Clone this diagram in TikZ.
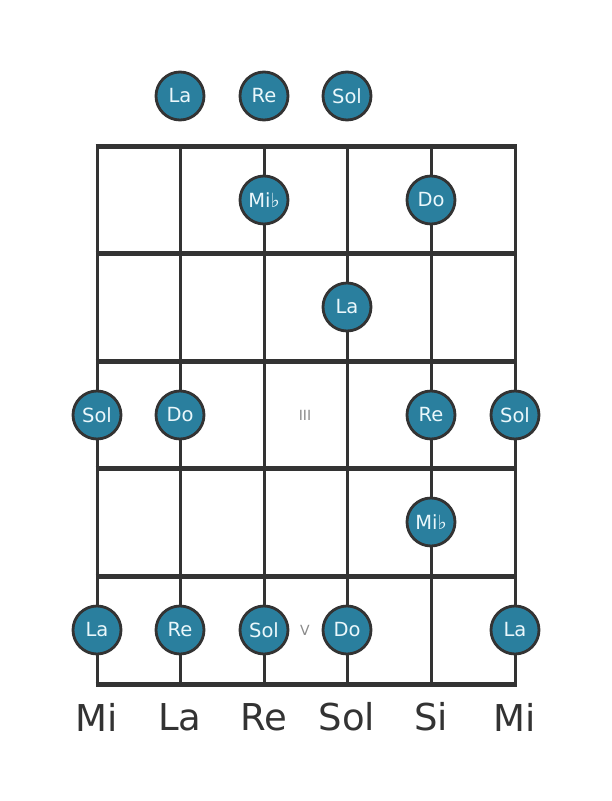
\documentclass[tikz,border=0pt]{standalone}
\usepackage{fontspec}
\setmainfont{DejaVu Sans}
\definecolor{notefill}{HTML}{2A7F9E}
\definecolor{linegray}{HTML}{333333}
\definecolor{notetext}{HTML}{EAF7FB}
\definecolor{markgray}{HTML}{8A8A8A}

\begin{document}
\begin{tikzpicture}[x=1pt, y=-1pt]
        \tikzstyle{note}=[circle,fill=notefill,draw=linegray,line width=2.8pt,minimum size=48pt,inner sep=0pt,text=notetext,font=\fontsize{19.5}{19.5}\selectfont]
        \tikzstyle{fret}=[draw=linegray,line width=5pt]
        \tikzstyle{string}=[draw=linegray,line width=3pt]
        \tikzstyle{marker}=[text=markgray,font=\fontsize{14}{14}\selectfont]
        \tikzstyle{tuning}=[text=linegray,font=\fontsize{37}{37}\selectfont]

        \useasboundingbox (0,0) rectangle (611,801);

        % strings
        \foreach \s/\x in {1/97,2/180,3/264,4/347,5/431,6/515} {
            \coordinate (S\s_top) at (\x,146);
            \coordinate (S\s_bot) at (\x,684);
            \draw[string] (S\s_top) -- (S\s_bot);
        }
        % frets
        \foreach \f/\y in {0/146,1/253.5,2/361,3/468.5,4/576,5/684} {
            \coordinate (F\f_l) at (95.5,\y);
            \coordinate (F\f_r) at (516.5,\y);
            \draw[fret] (F\f_l) -- (F\f_r);
        }

        % fret markers
        \node[marker] (M_3) at (305,415) {III};
        \node[marker] (M_5) at (305,630) {V};

        % open strings
        \node[note] (O_2) at (180,96) {La};
        \node[note] (O_3) at (264,96) {Re};
        \node[note] (O_4) at (347,96) {Sol};

        % fret 1
        \node[note] (N_1_3) at (264,200) {Mi♭};
        \node[note] (N_1_5) at (431,200) {Do};
        % fret 2
        \node[note] (N_2_4) at (347,307) {La};
        % fret 3
        \node[note] (N_3_1) at (97,415)  {Sol};
        \node[note] (N_3_2) at (180,415) {Do};
        \node[note] (N_3_5) at (431,415) {Re};
        \node[note] (N_3_6) at (515,415) {Sol};
        % fret 4
        \node[note] (N_4_5) at (431,522) {Mi♭};
        % fret 5
        \node[note] (N_5_1) at (97,630)  {La};
        \node[note] (N_5_2) at (180,630) {Re};
        \node[note] (N_5_3) at (264,630) {Sol};
        \node[note] (N_5_4) at (347,630) {Do};
        \node[note] (N_5_6) at (515,630) {La};

        % tuning
        \foreach \s/\x/\t in {1/97/Mi,2/180/La,3/264/Re,4/347/Sol,5/431/Si,6/515/Mi}
            \node[tuning] (T_\s) at (\x,717) {\t};
    \end{tikzpicture}
\end{document}
